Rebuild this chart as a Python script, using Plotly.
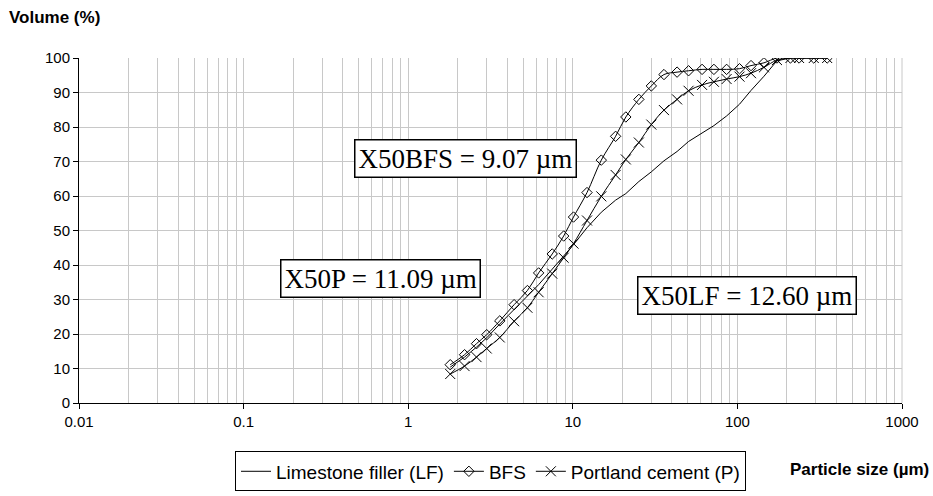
import plotly.graph_objects as go

# particle size grid (µm)
size_um = [1.8, 2.2, 2.6, 3.0, 3.6, 4.4, 5.3, 6.2, 7.5, 8.8, 10.1, 12.2, 14.9, 18.2, 21, 25.2,
           30, 35.8, 43, 50.5, 61, 72, 86, 103, 121, 145, 174, 210, 237, 291, 351]

lf_volume = [10.4, 13.3, 16.2, 18.9, 22.9, 27.2, 31.1, 34.3, 38.8, 42.5, 45.9, 50.8, 55.3, 58.8,
             60.7, 64.2, 67.0, 70.2, 72.9, 75.8, 78.2, 80.4, 83.2, 86.6, 90.6, 94.7, 99.2,
             100, 100, 100, 100]

bfs_volume = [11.1, 14.0, 17.2, 19.8, 23.8, 28.5, 32.6, 37.7, 43.2, 48.4, 53.9, 61.0, 70.4, 77.3,
              82.9, 88.0, 91.9, 95.2, 95.9, 96.3, 96.7, 96.7, 96.7, 96.9, 97.8, 98.6, 100,
              100, 100, 100, 100]

pc_volume = [8.4, 10.7, 13.3, 15.8, 19.0, 23.7, 27.6, 32.1, 37.5, 42.1, 46.2, 52.9, 59.9, 66.1,
             70.6, 75.5, 80.7, 84.9, 88.0, 90.5, 92.2, 93.1, 93.9, 94.6, 95.6, 97.3, 99.4,
             100, 100, 100, 100]

x_tick_vals = [0.01, 0.1, 1, 10, 100, 1000]
x_tick_text = ["0.01", "0.1", "1", "10", "100", "1000"]

fig = go.Figure()
fig.add_trace(go.Scatter(x=size_um, y=lf_volume, mode="lines", name="Limestone filler (LF)",
                         line=dict(color="black", width=1)))
fig.add_trace(go.Scatter(x=size_um, y=bfs_volume, mode="lines+markers", name="BFS",
                         line=dict(color="black", width=1, shape="spline"),
                         marker=dict(symbol="diamond-open", size=8, color="black",
                                     line=dict(width=1, color="black"))))
fig.add_trace(go.Scatter(x=size_um, y=pc_volume, mode="lines+markers", name="Portland cement (P)",
                         line=dict(color="black", width=1, shape="spline"),
                         marker=dict(symbol="x-thin-open", size=10, color="black",
                                     line=dict(width=1, color="black"))))

grid = "#c8c8c8"
fig.update_layout(
    width=933, height=496,
    margin=dict(l=79, r=31, t=58, b=93, autoexpand=False),
    paper_bgcolor="white", plot_bgcolor="white",
    font=dict(family="Arial, Liberation Sans", size=15, color="black"),
    showlegend=True,
    legend=dict(orientation="h", x=0.50, xanchor="center", y=-0.1404, yanchor="top",
                bordercolor="black", borderwidth=1, font=dict(size=19),
                itemwidth=30, tracegroupgap=0),
    xaxis=dict(type="log", range=[-2, 3], tickvals=x_tick_vals, ticktext=x_tick_text,
               showline=True, linecolor="black", linewidth=1, mirror=False,
               ticks="outside", ticklen=5, tickcolor="black",
               showgrid=True, gridcolor=grid, gridwidth=1, zeroline=False,
               minor=dict(dtick="D1", showgrid=True, gridcolor=grid, gridwidth=1, ticks="")),
    yaxis=dict(range=[0, 100], dtick=10, showline=True, linecolor="black", linewidth=1,
               ticks="outside", ticklen=5, tickcolor="black",
               showgrid=True, gridcolor=grid, gridwidth=1, zeroline=False),
)

fig.add_shape(type="line", xref="paper", yref="paper", x0=1, x1=1, y0=0, y1=1,
              line=dict(color=grid, width=1))

box_font = dict(family="Times New Roman, Liberation Serif", size=27, color="black")
for txt, px, py in [("X50BFS = 9.07 µm", 0.470, 0.708),
                    ("X50P = 11.09 µm", 0.366, 0.362),
                    ("X50LF = 12.60 µm", 0.812, 0.3126)]:
    fig.add_annotation(text=txt, xref="paper", yref="paper", x=px, y=py, showarrow=False,
                       xanchor="center", yanchor="middle",
                       font=box_font, bgcolor="white", bordercolor="black", borderwidth=1.5,
                       borderpad=3)

fig.add_annotation(text="<b>Volume (%)</b>", xref="paper", yref="paper",
                   x=-72/823, y=1 + (58-17)/345.5, xanchor="left", yanchor="middle",
                   showarrow=False, font=dict(size=17))
fig.add_annotation(text="<b>Particle size (µm)</b>", xref="paper", yref="paper",
                   x=(931-79)/823, y=(403.5-470)/345.5, xanchor="right", yanchor="middle",
                   showarrow=False, font=dict(size=17))

fig.write_html("out.html")
